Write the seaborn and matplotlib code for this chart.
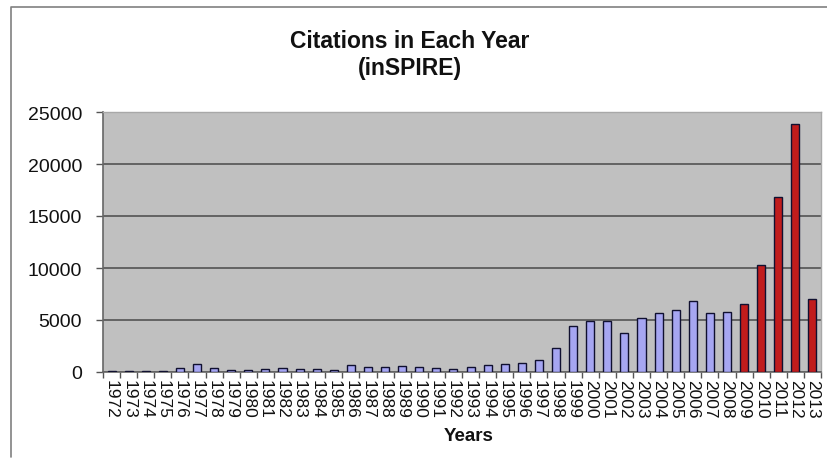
import matplotlib
matplotlib.use("Agg")
import matplotlib.pyplot as plt
import seaborn as sns
import pandas as pd
from matplotlib.lines import Line2D

years = [str(y) for y in range(1972, 2014)]
citations = [50, 80, 50, 60, 420, 800, 390, 225, 225, 290,
             390, 290, 290, 225, 645, 480, 480, 580, 480, 390,
             290, 480, 645, 800, 900, 1130, 2260, 4420, 4930, 4930,
             3710, 5160, 5640, 5970, 6870, 5640, 5740, 6550, 10300, 16800,
             23800, 7050]
periods = ["before"] * 37 + ["recent"] * 5
palette = {"before": "#9999FF", "recent": "#DD0000"}

df = pd.DataFrame({"Year": years, "Citations": citations, "Period": periods})

sns.set_theme(style="white")
plt.rcParams["font.family"] = ["Liberation Sans", "DejaVu Sans"]

fig = plt.figure(figsize=(8.27, 4.60), dpi=100)
ax = fig.add_axes([103 / 827, 1 - 373 / 460, (821 - 103) / 827, (373 - 113) / 460])
ax.set_facecolor("#C0C0C0")

sns.barplot(data=df, x="Year", y="Citations", hue="Period", palette=palette,
            dodge=False, width=0.47, edgecolor="#101030", linewidth=1.0,
            legend=False, ax=ax, zorder=3)

ax.set_ylim(0, 25000)
ax.set_xlim(-0.5, len(years) - 0.5)
ax.set_yticks(range(0, 25001, 5000))
ax.yaxis.grid(True, color="#4A4A4A", linewidth=1.1, zorder=1)
ax.set_axisbelow(True)

ax.tick_params(axis="y", labelsize=14, length=5, width=1, color="#555555",
               left=True, pad=10, labelcolor="#111111")
ax.set_xticks(range(len(years)))
ax.set_xticklabels(years, rotation=-90, fontsize=12.5, color="#111111")
ax.tick_params(axis="x", which="major", length=0, pad=5)
ax.set_xticks([i - 0.5 for i in range(len(years) + 1)], minor=True)
ax.tick_params(axis="x", which="minor", length=4, width=1, color="#555555",
               bottom=True)

ax.set_xlabel("")
ax.set_ylabel("")
for side in ["left", "bottom"]:
    ax.spines[side].set_color("#666666")
    ax.spines[side].set_linewidth(1.2)
for side in ["top", "right"]:
    ax.spines[side].set_color("#A8A8A8")
    ax.spines[side].set_linewidth(1.0)

fig.text(410 / 827, 1 - 55 / 460, "Citations in Each Year\n(inSPIRE)",
         ha="center", va="center", fontsize=16.5, fontweight="bold",
         linespacing=1.25, color="#111111")
fig.text(469 / 827, 1 - 437 / 460, "Years", ha="center", va="center",
         fontsize=13.5, fontweight="bold", color="#111111")

fig.add_artist(Line2D([11 / 827, 11 / 827, 1.0], [2 / 460, 1 - 8 / 460, 1 - 8 / 460],
                      transform=fig.transFigure, color="#808080", linewidth=1.2))

fig.savefig("out.png", dpi=100, facecolor="white")
